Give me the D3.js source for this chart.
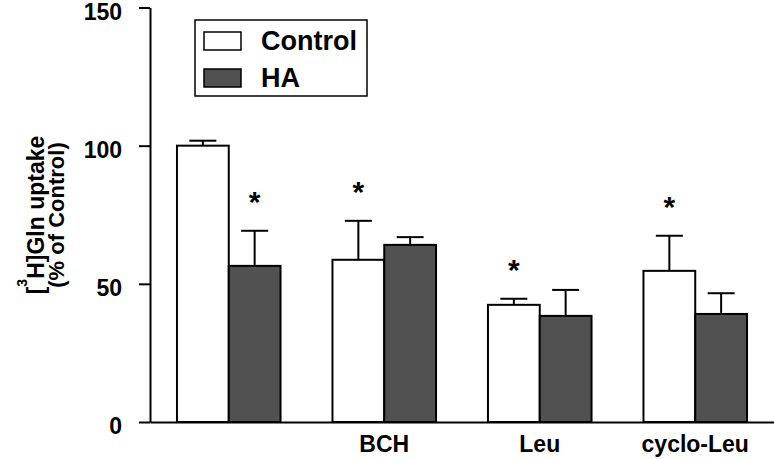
<!DOCTYPE html>
<html>
<head>
<meta charset="utf-8">
<script src="https://cdn.jsdelivr.net/npm/d3@7"></script>
<style>
	body { margin: 0; background: #fff; }
	text { font-family: "Liberation Sans", Arial, sans-serif; font-weight: bold; fill: #000; }
</style>
</head>
<body>
<svg id="chart" width="774" height="459"></svg>
<script>

// Data

var groups = ["", "BCH", "Leu", "cyclo-Leu"];
var seriesNames = ["Control", "HA"];
var controlValues = [100, 58.7, 42.4, 54.7];
var controlErrors = [1.8, 14.1, 2.2, 12.7];
var haValues = [56.5, 64.1, 38.4, 39.1];
var haErrors = [12.7, 2.8, 9.4, 7.5];
// which bar gets a "*" above it
var controlStars = [false, true, true, true];
var haStars = [true, false, false, false];
var yTicks = [0, 50, 100, 150];

var colors = { "Control": "#ffffff", "HA": "#515151" };

var svg = d3.select("#chart");

var x0 = d3.scaleBand()
	.domain(groups)
	.range([150, 774])
	.paddingInner(0.334)
	.paddingOuter(0.1735);

var x1 = d3.scaleBand()
	.domain(seriesNames)
	.range([0, x0.bandwidth()]);

var y = d3.scaleLinear()
	.domain([0, 150])
	.range([422, 7.5]);

var bars = [];
groups.forEach(function (g, i) {
	bars.push({ group: g, series: "Control", value: controlValues[i], err: controlErrors[i], star: controlStars[i] });
	bars.push({ group: g, series: "HA", value: haValues[i], err: haErrors[i], star: haStars[i] });
});

// Bars

var bar = svg.append("g").selectAll("g")
	.data(bars)
	.enter().append("g")
	.attr("transform", function (d) { return "translate(" + (x0(d.group) + x1(d.series)) + ",0)"; });

var w = x1.bandwidth();

// error bars (upper only)
bar.append("line")
	.attr("x1", w / 2).attr("x2", w / 2)
	.attr("y1", function (d) { return y(d.value); })
	.attr("y2", function (d) { return y(d.value + d.err); })
	.style("stroke", "#000").style("stroke-width", 2);

bar.append("line")
	.attr("x1", w / 2 - 13.5).attr("x2", w / 2 + 13.5)
	.attr("y1", function (d) { return y(d.value + d.err); })
	.attr("y2", function (d) { return y(d.value + d.err); })
	.style("stroke", "#000").style("stroke-width", 2);

bar.append("rect")
	.attr("x", 0)
	.attr("width", w)
	.attr("y", function (d) { return y(d.value); })
	.attr("height", function (d) { return y(0) - y(d.value); })
	.style("fill", function (d) { return colors[d.series]; })
	.style("stroke", "#000")
	.style("stroke-width", 2);

bar.filter(function (d) { return d.star; })
	.append("text")
	.attr("x", w / 2)
	.attr("y", function (d) { return y(d.value + d.err) - 36 + 17; })
	.attr("text-anchor", "middle")
	.style("font-size", "30px")
	.text("*");

// Axes

var yAxis = svg.append("g")
	.attr("transform", "translate(150,0)")
	.call(d3.axisLeft(y).tickValues(yTicks).tickSize(11).tickSizeOuter(0).tickPadding(17));

yAxis.select(".domain").style("stroke-width", 2);
yAxis.selectAll(".tick line").style("stroke-width", 2);
yAxis.selectAll(".tick text")
	.attr("dy", "0.5em")
	.style("font-size", "23px")
	.style("font-family", "\"Liberation Sans\", Arial, sans-serif");

var xAxis = svg.append("g")
	.attr("transform", "translate(0," + y(0) + ")")
	.call(d3.axisBottom(x0).tickSize(0).tickSizeOuter(0).tickPadding(14));

xAxis.select(".domain").style("stroke-width", 2);
xAxis.selectAll(".tick text")
	.attr("dy", "0.71em")
	.style("font-size", "23px")
	.style("font-family", "\"Liberation Sans\", Arial, sans-serif");

// Y label

var ylab = svg.append("g")
	.attr("transform", "translate(0,215) rotate(-90)");

var l1 = ylab.append("text")
	.attr("x", 0).attr("y", 44)
	.attr("text-anchor", "middle")
	.style("font-size", "23px");
l1.append("tspan").text("[");
l1.append("tspan").attr("dy", -17).style("font-size", "14px").text("3");
l1.append("tspan").attr("dy", 17).text("H]Gln uptake");

ylab.append("text")
	.attr("x", 0).attr("y", 64)
	.attr("text-anchor", "middle")
	.style("font-size", "22px")
	.text("(% of Control)");

// Legend

var legend = svg.append("g").attr("transform", "translate(195,20)");

legend.append("rect")
	.attr("width", 172).attr("height", 76)
	.style("fill", "#fff").style("stroke", "#000").style("stroke-width", 1.5);

var item = legend.selectAll(".item")
	.data(seriesNames)
	.enter().append("g")
	.attr("class", "item")
	.attr("transform", function (d, i) { return "translate(9," + (12 + i * 37) + ")"; });

item.append("rect")
	.attr("width", 37).attr("height", 18)
	.style("fill", function (d) { return colors[d]; })
	.style("stroke", "#000").style("stroke-width", 1.5);

item.append("text")
	.attr("x", 57).attr("y", 18)
	.style("font-size", "27px")
	.text(function (d) { return d; });

</script>
</body>
</html>
